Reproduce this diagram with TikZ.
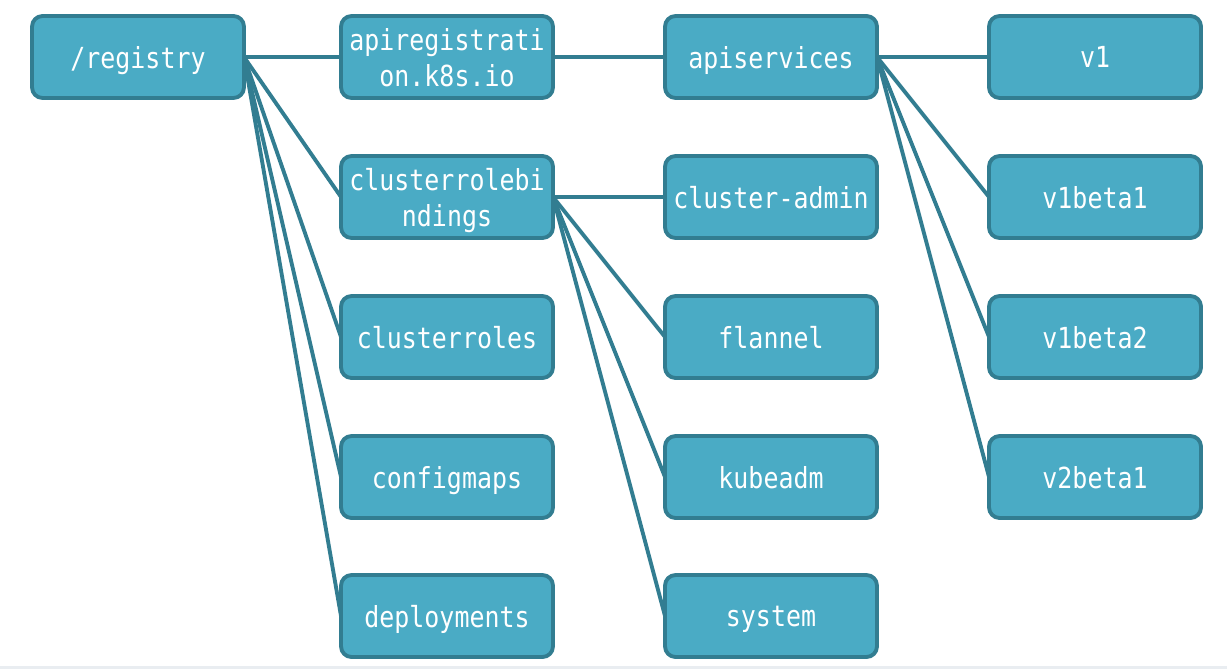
\documentclass[tikz,border=0pt]{standalone}
\usepackage{fontspec}
\setmonofont[FakeStretch=0.86]{DejaVu Sans Mono}
\usepackage{tikz}

\definecolor{boxfill}{HTML}{4AABC5}
\definecolor{boxline}{HTML}{327D91}
\definecolor{edgegray}{HTML}{E9EDF1}

\tikzset{
  box/.style={draw=boxline, fill=boxfill, line width=2.2pt, rounded corners=6pt,
    minimum width=4.24cm, minimum height=1.64cm, inner sep=0pt, outer sep=0pt,
    text depth=0pt, text=white, align=center,
    font=\ttfamily\fontsize{16.5}{20.5}\selectfont},
  link/.style={draw=boxline, line width=2.2pt}
}

\begin{document}
\begin{tikzpicture}[x=0.02cm,y=-0.02cm]

\useasboundingbox (0,0) rectangle (1227,669);
\fill [edgegray] (0,666) rectangle (1227,669);

\node [box] (registry) at (138,57) {/registry};

\node [box] (apireg)   at (447,57)  {apiregistrati\\on.k8s.io};
\node [box] (crb)      at (447,197) {clusterrolebi\\ndings};
\node [box] (roles)    at (447,337) {clusterroles};
\node [box] (cfgmaps)  at (447,477) {configmaps};
\node [box] (deploy)   at (447,616) {deployments};

\node [box] (apisvc)   at (771,57)  {apiservices};
\node [box] (cadmin)   at (771,197) {cluster-admin};
\node [box] (flannel)  at (771,337) {flannel};
\node [box] (kubeadm)  at (771,477) {kubeadm};
\node [box] (system)   at (771,616) {system};

\node [box] (v1)       at (1095,57)  {v1};
\node [box] (v1b1)     at (1095,197) {v1beta1};
\node [box] (v1b2)     at (1095,337) {v1beta2};
\node [box] (v2b1)     at (1095,477) {v2beta1};

\foreach \n in {apireg,crb,roles,cfgmaps,deploy}
    \draw [link] (registry.east) -- (\n.west);

\draw [link] (apireg.east) -- (apisvc.west);

\foreach \n in {cadmin,flannel,kubeadm,system}
    \draw [link] (crb.east) -- (\n.west);

\foreach \n in {v1,v1b1,v1b2,v2b1}
    \draw [link] (apisvc.east) -- (\n.west);

\end{tikzpicture}
\end{document}
